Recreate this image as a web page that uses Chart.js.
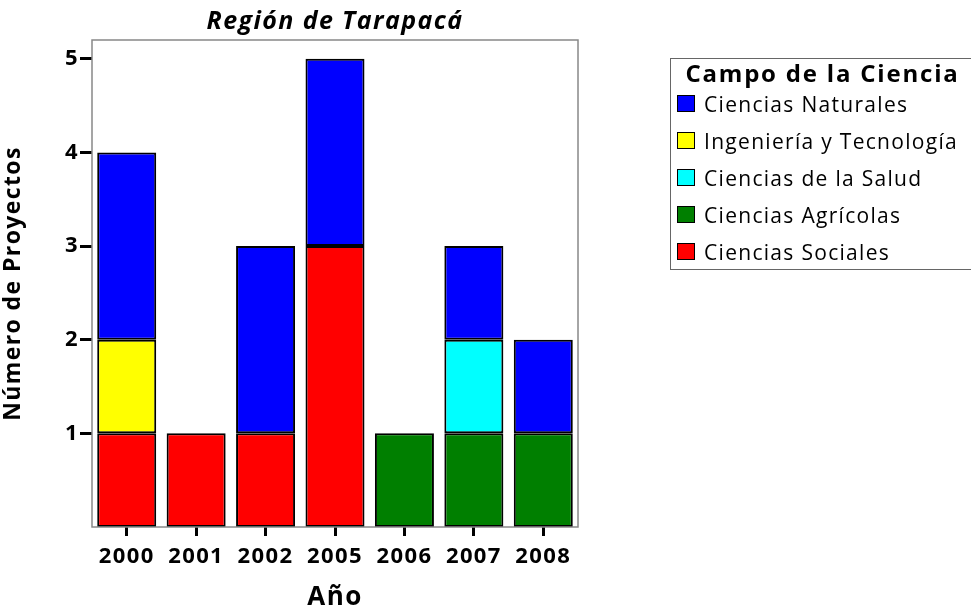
<!DOCTYPE html>
<html>
<head>
<meta charset="utf-8">
<script src="https://cdn.jsdelivr.net/npm/chart.js@4"></script>
<style>
  html, body { margin: 0; padding: 0; background: #fff; }
  #wrap { position: relative; width: 971px; height: 612px; overflow: hidden; }
  #legend {
    position: absolute; left: 670px; top: 58px; width: 330px; height: 212px;
    border: 1.5px solid #666; box-sizing: border-box; font-family: "Open Sans", sans-serif;
  }
  #legend h3 { margin: 2px 0 0 0; width: 303px; line-height: 24px; text-align: center; font-size: 24px; font-weight: bold; letter-spacing: 1.8px; }
  #legend .item { display: flex; align-items: center; height: 37px; padding-left: 6px; font-size: 21px; letter-spacing: 1.3px; }
  #legend .sw { width: 18px; height: 17px; border: 1.5px solid #000; box-sizing: border-box; margin-right: 9px; flex: none; }
</style>
</head>
<body>
<div id="wrap">
  <canvas id="chart" width="971" height="612"></canvas>
  <div id="legend"><h3>Campo de la Ciencia</h3></div>
</div>
<script>
const years = ['2000', '2001', '2002', '2005', '2006', '2007', '2008'];
const sociales   = [1, 1, 1, 3, null, null, null];
const agricolas  = [null, null, null, null, 1, 1, 1];
const salud      = [null, null, null, null, null, 1, null];
const ingenieria = [1, null, null, null, null, null, null];
const naturales  = [2, null, 2, 2, null, 1, 1];
const yTicks = [1, 2, 3, 4, 5];

// stacking goes bottom-up in dataset order
const series = [
  { label: 'Ciencias Sociales', data: sociales, color: '#ff0000' },
  { label: 'Ciencias Agrícolas', data: agricolas, color: '#007f00' },
  { label: 'Ciencias de la Salud', data: salud, color: '#00ffff' },
  { label: 'Ingeniería y Tecnología', data: ingenieria, color: '#ffff00' },
  { label: 'Ciencias Naturales', data: naturales, color: '#0000ff' }
];

// gray box round the plot + wider letter spacing like the original
const frame = {
  id: 'frame',
  beforeInit(chart) { chart.ctx.letterSpacing = '1.4px'; },
  beforeDraw(chart) { chart.ctx.letterSpacing = '1.4px'; },
  afterDatasetsDraw(chart) {
    const a = chart.chartArea, c = chart.ctx;
    c.save();
    c.strokeStyle = '#888';
    c.lineWidth = 1.5;
    c.strokeRect(a.left, a.top, a.right - a.left, a.bottom - a.top);
    c.restore();
  }
};

const font = '"Open Sans", sans-serif';

new Chart(document.getElementById('chart').getContext('2d'), {
  type: 'bar',
  data: {
    labels: years,
    datasets: series.map(s => ({
      label: s.label,
      data: s.data,
      backgroundColor: s.color,
      borderColor: '#000',
      borderWidth: 2,
      borderSkipped: false,
      categoryPercentage: 1,
      barPercentage: 0.85
    }))
  },
  options: {
    responsive: false,
    animation: false,
    layout: { padding: { right: 393, left: 0, top: 0, bottom: 0 } },
    plugins: {
      legend: { display: false },
      tooltip: { enabled: false },
      title: {
        display: true,
        fullSize: false,
        text: 'Región de Tarapacá',
        color: '#000',
        font: { family: font, size: 25, weight: 'bold', style: 'italic', lineHeight: 1.2 },
        padding: { top: 7, bottom: 3 }
      }
    },
    scales: {
      x: {
        stacked: true,
        afterFit: s => { s.height = 85; },
        border: { display: false },
        grid: { drawOnChartArea: false, offset: false, color: '#000', lineWidth: 3, tickLength: 9 },
        ticks: { color: '#000', padding: 8, font: { family: font, size: 22, weight: 'bold' } },
        title: {
          display: true, text: 'Año', color: '#000',
          font: { family: font, size: 26, weight: 'bold' },
          padding: { top: 0, bottom: -1 }
        }
      },
      y: {
        stacked: true,
        min: 0,
        max: 5.2,
        afterFit: s => { s.width = 92; },
        afterBuildTicks: s => { s.ticks = yTicks.map(v => ({ value: v })); },
        border: { display: false },
        grid: { drawOnChartArea: false, color: '#000', lineWidth: 3, tickLength: 12 },
        ticks: { color: '#000', padding: 1, font: { family: font, size: 22, weight: 'bold' } },
        title: {
          display: true, text: 'Número de Proyectos', color: '#000',
          font: { family: font, size: 23, weight: 'bold' },
          padding: { top: 0, bottom: 12 }
        }
      }
    }
  },
  plugins: [frame]
});

// legend lists the series top-down (reverse of stack order)
const legend = document.getElementById('legend');
series.slice().reverse().forEach(s => {
  const row = document.createElement('div');
  row.className = 'item';
  row.innerHTML = '<span class="sw" style="background:' + s.color + '"></span><span>' + s.label + '</span>';
  legend.appendChild(row);
});
</script>
</body>
</html>
